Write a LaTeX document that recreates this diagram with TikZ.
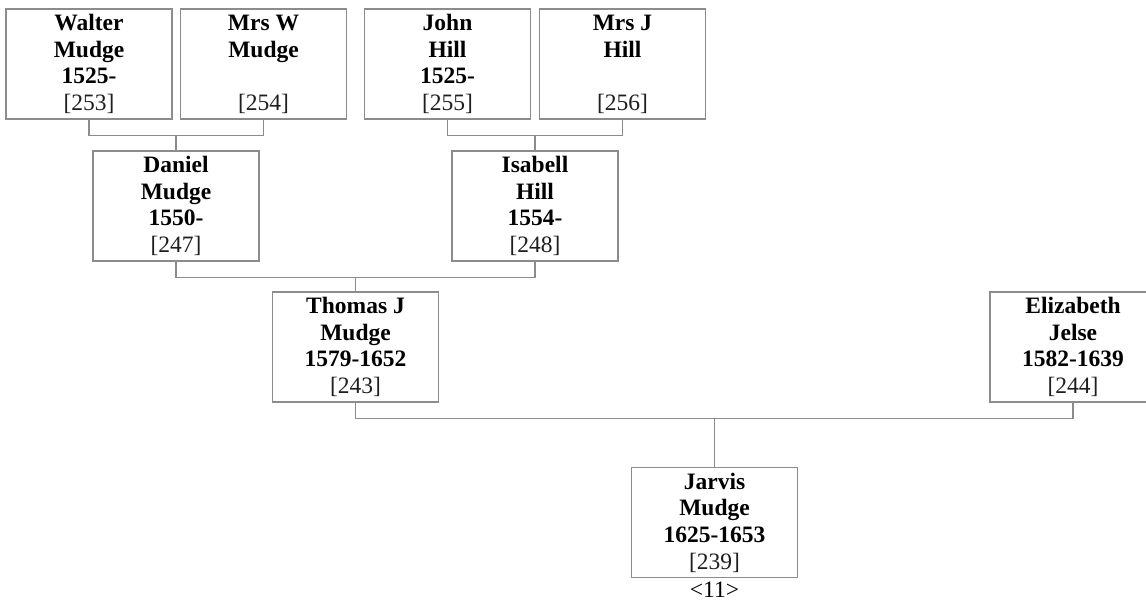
\documentclass[tikz,border=0pt]{standalone}
\usepackage{fontspec}
\setmainfont{Liberation Serif}
\definecolor{linegray}{RGB}{140,140,140}
\definecolor{idtext}{RGB}{30,30,30}
\newcommand{\personbox}[2]{\parbox[c][110pt][t]{166pt}{\centering\fontsize{23.5pt}{26.7pt}\selectfont\lineskiplimit=-20pt\rule{0pt}{21.5pt}\textbf{#1}\\\textcolor{idtext}{#2}\par}}
\tikzset{
  person/.style={draw=linegray, line width=1.1pt, inner sep=0pt, fill=white},
  conn/.style={draw=linegray, line width=1.1pt},
  reftext/.style={inner sep=0pt, font=\fontsize{23.5pt}{26.7pt}\selectfont}
}
\begin{document}
\begin{tikzpicture}[x=1pt,y=-1pt]
\useasboundingbox (0,0) rectangle (1146,603);
\clip (0,0) rectangle (1146,603);
\node[person] (walter) at (89,64) {\personbox{Walter\\Mudge\\1525-}{[253]}};
\node[person] (mrsw) at (263.5,64) {\personbox{Mrs W\\Mudge\\\mbox{}}{[254]}};
\node[person] (john) at (447.5,64) {\personbox{John\\Hill\\1525-}{[255]}};
\node[person] (mrsj) at (622.5,64) {\personbox{Mrs J\\Hill\\\mbox{}}{[256]}};
\node[person] (daniel) at (176,206) {\personbox{Daniel\\Mudge\\1550-}{[247]}};
\node[person] (isabell) at (535,206) {\personbox{Isabell\\Hill\\1554-}{[248]}};
\node[person] (thomas) at (355.5,347) {\personbox{Thomas J\\Mudge\\1579-1652}{[243]}};
\node[person] (elizabeth) at (1073,347) {\personbox{Elizabeth\\Jelse\\1582-1639}{[244]}};
\node[person] (jarvis) at (714.5,522.5) {\personbox{Jarvis\\Mudge\\1625-1653}{[239]}};
\node[reftext] (ref) at (714.5,590) {<11>};
% connectors
\draw[conn] (walter.south) -- ++(0,16) coordinate (wm) -| (mrsw.south);
\draw[conn] (daniel.north) -- (daniel.north |- wm);
\draw[conn] (john.south) -- ++(0,16) coordinate (jm) -| (mrsj.south);
\draw[conn] (isabell.north) -- (isabell.north |- jm);
\draw[conn] (daniel.south) -- ++(0,16) coordinate (di) -| (isabell.south);
\draw[conn] (thomas.north) -- (thomas.north |- di);
\draw[conn] (thomas.south) -- ++(0,15.5) coordinate (te) -| (elizabeth.south);
\draw[conn] (jarvis.north) -- (jarvis.north |- te);
\end{tikzpicture}
\end{document}
